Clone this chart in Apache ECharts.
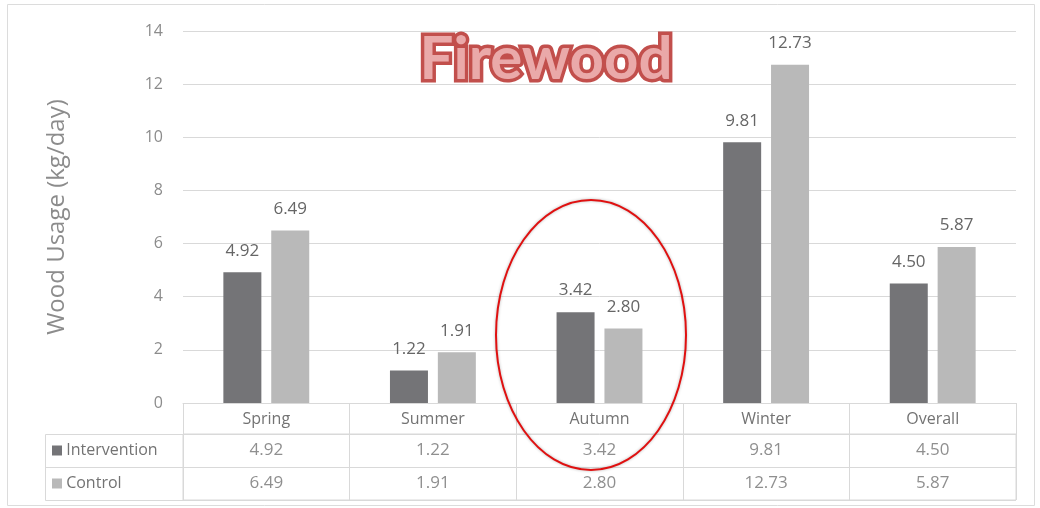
<!DOCTYPE html>
<html>
<head>
<meta charset="utf-8">
<script src="https://cdn.jsdelivr.net/npm/echarts@6/dist/echarts.min.js"></script>
<style>
html,body{margin:0;padding:0;background:#fff;}
#chart{width:1040px;height:508px;}
</style>
</head>
<body>
<div id="chart"></div>
<script>
const categories = ['Spring', 'Summer', 'Autumn', 'Winter', 'Overall'];
const seriesNames = ['Intervention', 'Control'];
const intervention = [4.92, 1.22, 3.42, 9.81, 4.50];
const control = [6.49, 1.91, 2.80, 12.73, 5.87];
const yTicks = { min: 0, max: 14, interval: 2 };
const titleText = 'Firewood';
const yAxisTitle = 'Wood Usage (kg/day)';

const FONT = 'Open Sans';
const darkGray = '#747477';
const lightGray = '#b9b9b9';
const lineGray = '#d9d9d9';
const textGray = '#737373';

const tableData = [];
categories.forEach((c, i) => {
  tableData.push([i, 0, intervention[i]]);
  tableData.push([i, 1, control[i]]);
});

const chart = echarts.init(document.getElementById('chart'), null, { renderer: 'canvas' });
chart.setOption({
  backgroundColor: '#fff',
  animation: false,
  textStyle: { fontFamily: FONT },
  title: {
    text: titleText,
    left: 541, top: 25,
    textAlign: 'center',
    textStyle: {
      fontFamily: 'Lato', fontWeight: 'bold', fontSize: 60,
      color: '#eaa9a9', textBorderColor: '#c24f4c', textBorderWidth: 7
    }
  },
  grid: [
    { left: 183, right: 24, top: 31, bottom: 105 },
    { left: 183, right: 24, top: 434, height: 66, show: true, borderColor: lineGray, borderWidth: 1 }
  ],
  xAxis: [
    {
      type: 'category', data: categories, gridIndex: 0,
      axisLine: { show: true, lineStyle: { color: lineGray } },
      axisTick: { show: true, length: 31, interval: 0, lineStyle: { color: lineGray } },
      axisLabel: { fontSize: 16, color: textGray, margin: 8, fontFamily: FONT }
    },
    {
      type: 'category', data: categories, gridIndex: 1,
      axisLine: { show: false }, axisTick: { show: false }, axisLabel: { show: false },
      splitLine: { show: true, interval: 0, lineStyle: { color: lineGray } }
    }
  ],
  yAxis: [
    {
      type: 'value', gridIndex: 0, min: yTicks.min, max: yTicks.max, interval: yTicks.interval,
      name: yAxisTitle, nameLocation: 'middle', nameGap: 114,
      nameTextStyle: { fontSize: 24, color: '#8c8c8c', fontFamily: FONT },
      axisLine: { show: false }, axisTick: { show: false },
      axisLabel: { fontSize: 16, color: '#8c8c8c', margin: 20, fontFamily: FONT },
      splitLine: { lineStyle: { color: lineGray } }
    },
    {
      type: 'category', gridIndex: 1, data: seriesNames, inverse: true,
      axisLine: { show: false }, axisTick: { show: false },
      splitLine: { show: true, interval: 0, lineStyle: { color: lineGray } },
      axisLabel: {
        align: 'left', margin: 131,
        formatter: v => (v === seriesNames[0] ? '{i|}' : '{c|}') + '{t| ' + v + '}',
        rich: {
          i: { width: 10, height: 10, backgroundColor: darkGray },
          c: { width: 10, height: 10, backgroundColor: lightGray },
          t: { fontSize: 16, color: textGray, fontFamily: FONT }
        }
      }
    }
  ],
  series: [
    {
      name: seriesNames[0], type: 'bar', data: intervention, barWidth: 38, barGap: '26%',
      xAxisIndex: 0, yAxisIndex: 0,
      itemStyle: { color: darkGray },
      label: { show: true, position: 'top', distance: 13, fontSize: 17, color: '#666', fontFamily: FONT,
        formatter: p => p.value.toFixed(2) }
    },
    {
      name: seriesNames[1], type: 'bar', data: control, barWidth: 38, barGap: '26%',
      xAxisIndex: 0, yAxisIndex: 0,
      itemStyle: { color: lightGray },
      label: { show: true, position: 'top', distance: 13, fontSize: 17, color: '#666', fontFamily: FONT,
        formatter: p => p.value.toFixed(2) }
    },
    {
      type: 'scatter', xAxisIndex: 1, yAxisIndex: 1, data: tableData, symbolSize: 1,
      itemStyle: { color: 'rgba(0,0,0,0)' },
      label: { show: true, position: 'inside', fontSize: 17, color: textGray, fontFamily: FONT,
        formatter: p => p.value[2].toFixed(2) },
      silent: true
    }
  ],
  graphic: [
    { type: 'rect', shape: { x: 7.5, y: 4.5, width: 1027, height: 501 },
      style: { stroke: '#dcdcdc', fill: 'none', lineWidth: 1 }, z: -1 },
    { type: 'rect', shape: { x: 45.5, y: 434.5, width: 138, height: 66 },
      style: { stroke: lineGray, fill: 'none', lineWidth: 1 } },
    { type: 'line', shape: { x1: 45.5, y1: 467.5, x2: 183.5, y2: 467.5 },
      style: { stroke: lineGray, lineWidth: 1 } },
    { type: 'ellipse', shape: { cx: 591, cy: 335, rx: 95, ry: 135 },
      style: { stroke: '#e01010', fill: 'none', lineWidth: 2, shadowBlur: 3, shadowColor: 'rgba(0,0,0,0.3)' }, z: 100 }
  ]
});
</script>
</body>
</html>
